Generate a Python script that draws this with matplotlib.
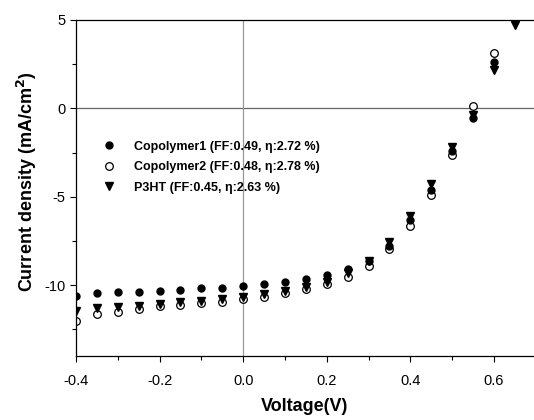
import matplotlib
matplotlib.use("Agg")
import matplotlib.pyplot as plt
from matplotlib.ticker import MultipleLocator

plt.rcParams['font.family'] = ['Liberation Sans', 'DejaVu Sans']
plt.rcParams['axes.unicode_minus'] = False

voltage = [-0.4, -0.35, -0.3, -0.25, -0.2, -0.15, -0.1, -0.05, 0.0, 0.05, 0.1,
           0.15, 0.2, 0.25, 0.3, 0.35, 0.4, 0.45, 0.5, 0.55, 0.6]
voltage_p3ht = voltage + [0.65]

copolymer1 = [-10.58, -10.45, -10.40, -10.36, -10.32, -10.26, -10.17, -10.15, -10.06,
              -9.94, -9.81, -9.62, -9.43, -9.10, -8.62, -7.78, -6.30, -4.60, -2.40,
              -0.56, 2.60]
copolymer2 = [-12.00, -11.62, -11.49, -11.36, -11.20, -11.11, -11.02, -10.92, -10.79,
              -10.64, -10.45, -10.23, -9.92, -9.51, -8.89, -7.97, -6.63, -4.90, -2.64,
              0.13, 3.16]
p3ht = [-11.45, -11.30, -11.24, -11.15, -11.05, -10.96, -10.89, -10.77, -10.64,
        -10.49, -10.32, -10.11, -9.79, -9.32, -8.61, -7.57, -6.06, -4.27, -2.17,
        -0.38, 2.17, 4.71]

labels = ["Copolymer1 (FF:0.49, \u03b7:2.72 %)",
          "Copolymer2 (FF:0.48, \u03b7:2.78 %)",
          "P3HT (FF:0.45, \u03b7:2.63 %)"]

fig = plt.figure(figsize=(5.34, 4.2), dpi=100)
ax = fig.add_axes([0.1423, 0.1524, 0.8577, 0.8])

# reference lines through the origin
ax.axhline(0, color='#666666', lw=0.9, zorder=1)
ax.axvline(0, color='#999999', lw=0.9, zorder=1)

ax.plot(voltage, copolymer1, 'o', color='black', ms=5, label=labels[0], zorder=3)
ax.plot(voltage, copolymer2, 'o', mfc='white', mec='black', mew=0.9, ms=5.5,
        label=labels[1], zorder=2)
ax.plot(voltage_p3ht, p3ht, 'v', color='black', ms=5.5, label=labels[2], zorder=3)

ax.set_xlim(-0.4, 0.6957)
ax.set_ylim(-14, 5)
ax.xaxis.set_major_locator(MultipleLocator(0.2))
ax.xaxis.set_minor_locator(MultipleLocator(0.1))
ax.yaxis.set_major_locator(MultipleLocator(5))
ax.yaxis.set_minor_locator(MultipleLocator(2.5))
ax.xaxis.set_major_formatter(plt.FuncFormatter(lambda v, p: f"{v:.1f}"))
ax.tick_params(which='both', direction='out', labelsize=10.5, width=0.8)
ax.tick_params(which='major', length=4)
ax.tick_params(which='minor', length=3)
ax.tick_params(axis='x', which='major', pad=9)
ax.spines['right'].set_visible(False)
for s in ['left', 'bottom', 'top']:
    ax.spines[s].set_linewidth(0.9)

ax.set_xlabel('Voltage(V)', fontsize=13, fontweight='bold', labelpad=7)
ax.set_ylabel('Current density (mA/cm$^\\mathbf{2}$)', fontsize=13, fontweight='bold', labelpad=4)
ax.yaxis.label.set_y(0.52)

ax.legend(loc='upper left', bbox_to_anchor=(0.044, 0.641), frameon=False,
          prop={'weight': 'bold', 'size': 9},
          handletextpad=1.05, labelspacing=0.68, borderpad=0, borderaxespad=0,
          markerscale=1.0)

fig.savefig("out.png", dpi=100)
